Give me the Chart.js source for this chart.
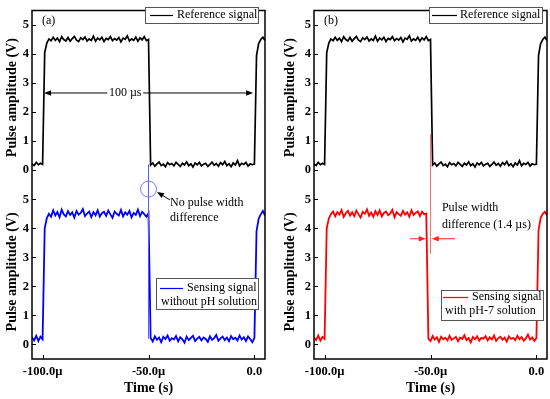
<!DOCTYPE html>
<html>
<head>
<meta charset="utf-8">
<script src="https://cdn.jsdelivr.net/npm/chart.js@4.4.1/dist/chart.umd.min.js"></script>
<style>
  html, body { margin: 0; padding: 0; background: #fff; }
  #wrap { position: relative; width: 550px; height: 399px; }
  canvas { position: absolute; top: 0; }
  #panelA { left: 0; }
  #panelB { left: 275px; }
</style>
</head>
<body>
<div id="wrap">
  <canvas id="panelA" width="275" height="399"></canvas>
  <canvas id="panelB" width="275" height="399"></canvas>
</div>
<script>
// sample times in µs, one sample per µs from -105 to 5
const timeUs = Array.from({ length: 111 }, (_, i) => i - 105);
const xTicks = [-100, -50, 0];
const yTicks = [0, 1, 2, 3, 4, 5];

// reference signal (V), same pulse in both panels
const refSignal = [
    0.22, 0.16, 0.27, 0.19, 0.24, 0.20, 4.05, 4.38, 4.52, 4.46,
    4.58, 4.47, 4.55, 4.43, 4.60, 4.50, 4.45, 4.57, 4.44, 4.53,
    4.61, 4.48, 4.43, 4.56, 4.50, 4.59, 4.45, 4.52, 4.47, 4.62,
    4.44, 4.55, 4.49, 4.58, 4.43, 4.54, 4.50, 4.60, 4.46, 4.53,
    4.48, 4.57, 4.42, 4.55, 4.51, 4.63, 4.45, 4.52, 4.47, 4.58,
    4.44, 4.56, 4.49, 4.60, 4.46, 4.50, 0.18, 0.25, 0.14, 0.22,
    0.28, 0.16, 0.21, 0.12, 0.26, 0.19, 0.23, 0.15, 0.27, 0.20,
    0.13, 0.24, 0.18, 0.29, 0.16, 0.22, 0.11, 0.25, 0.19, 0.27,
    0.15, 0.21, 0.24, 0.13, 0.20, 0.28, 0.17, 0.23, 0.14, 0.26,
    0.19, 0.30, 0.16, 0.22, 0.12, 0.25, 0.18, 0.33, 0.15, 0.24,
    0.20, 0.27, 0.14, 0.22, 0.19, 0.21, 3.95, 4.36, 4.50, 4.58,
    4.47
];

// sensing signal without pH solution (V)
const sensingNoPH = [
    0.25, 0.14, 0.30, 0.12, 0.27, 0.18, 4.00, 4.35, 4.50, 4.40,
    4.62, 4.44, 4.56, 4.38, 4.64, 4.48, 4.41, 4.59, 4.46, 4.55,
    4.37, 4.60, 4.47, 4.53, 4.66, 4.42, 4.51, 4.58, 4.39, 4.56,
    4.45, 4.62, 4.40, 4.52, 4.57, 4.43, 4.61, 4.48, 4.36, 4.58,
    4.50, 4.44, 4.63, 4.41, 4.55, 4.47, 4.60, 4.38, 4.53, 4.46,
    4.64, 4.42, 4.57, 4.49, 4.40, 4.52, 0.22, 0.10, 0.28, 0.16,
    0.24, 0.08, 0.26, 0.19, 0.31, 0.13, 0.22, 0.17, 0.29, 0.11,
    0.25, 0.18, 0.06, 0.27, 0.15, 0.23, 0.30, 0.12, 0.20, 0.26,
    0.14, 0.24, 0.19, 0.09, 0.28, 0.16, 0.22, 0.33, 0.13, 0.21,
    0.27, 0.15, 0.24, 0.11, 0.29, 0.18, 0.23, 0.14, 0.31, 0.17,
    0.25, 0.12, 0.28, 0.19, 0.08, 0.22, 3.90, 4.33, 4.48, 4.60,
    4.44
];

// sensing signal with pH-7 solution (V), falls ~1.4 µs earlier
const sensingPH7 = [
    0.24, 0.15, 0.31, 0.13, 0.26, 0.19, 4.00, 4.34, 4.49, 4.58,
    4.41, 4.56, 4.47, 4.63, 4.39, 4.52, 4.60, 4.44, 4.55, 4.42,
    4.61, 4.48, 4.37, 4.57, 4.50, 4.65, 4.43, 4.54, 4.40, 4.59,
    4.46, 4.62, 4.41, 4.53, 4.58, 4.45, 4.51, 4.64, 4.38, 4.56,
    4.49, 4.43, 4.60, 4.47, 4.55, 4.40, 4.62, 4.46, 4.53, 4.58,
    4.42, 4.57, 4.48, 4.51, 0.20, 0.12, 0.29, 0.17, 0.25, 0.09,
    0.27, 0.18, 0.23, 0.14, 0.30, 0.16, 0.21, 0.26, 0.11, 0.24,
    0.19, 0.32, 0.15, 0.22, 0.07, 0.26, 0.18, 0.28, 0.13, 0.23,
    0.20, 0.29, 0.14, 0.25, 0.17, 0.31, 0.12, 0.22, 0.27, 0.16,
    0.24, 0.10, 0.28, 0.19, 0.23, 0.15, 0.30, 0.18, 0.26, 0.13,
    0.21, 0.34, 0.17, 0.24, 0.12, 0.22, 3.92, 4.35, 4.50, 4.57,
    4.45
];

const serif = "'Liberation Serif', 'Times New Roman', serif";

const toPoints = vals => timeUs.map((t, i) => ({ x: t, y: vals[i] }));

function drawText(ctx, str, x, y, align) {
    ctx.fillStyle = '#000';
    ctx.font = '12px ' + serif;
    ctx.textAlign = align || 'left';
    ctx.textBaseline = 'middle';
    ctx.fillText(str, x, y);
}

function drawArrow(ctx, x1, y1, x2, y2, color) {
    const head = 7;
    const ang = Math.atan2(y2 - y1, x2 - x1);
    const c = Math.cos(ang), s = Math.sin(ang);
    ctx.strokeStyle = color;
    ctx.fillStyle = color;
    ctx.lineWidth = 1;
    ctx.beginPath();
    ctx.moveTo(x1, y1);
    ctx.lineTo(x2 - c * head * 0.8, y2 - s * head * 0.8);
    ctx.stroke();
    ctx.beginPath();
    ctx.moveTo(x2, y2);
    ctx.lineTo(x2 - head * c + head * 0.4 * s, y2 - head * s - head * 0.4 * c);
    ctx.lineTo(x2 - head * c - head * 0.4 * s, y2 - head * s + head * 0.4 * c);
    ctx.closePath();
    ctx.fill();
}

function drawLegend(ctx, l) {
    ctx.fillStyle = '#fff';
    ctx.fillRect(l.x, l.y, l.w, l.h);
    ctx.strokeStyle = '#555';
    ctx.lineWidth = 1;
    ctx.strokeRect(l.x + 0.5, l.y + 0.5, l.w, l.h);
    ctx.strokeStyle = l.color;
    ctx.lineWidth = 1.2;
    ctx.beginPath();
    ctx.moveTo(l.x0, l.ly + 0.5);
    ctx.lineTo(l.x1, l.ly + 0.5);
    ctx.stroke();
    l.text.forEach(([s, tx, ty]) => drawText(ctx, s, tx, ty));
}

// frame, inward ticks, annotations and legends
function decor(cfg) {
    return {
        id: 'decor',
        afterDraw(chart) {
            const { ctx, chartArea: a, scales } = chart;
            const px = t => scales.x.getPixelForValue(t);
            const pyT = v => scales.yTop.getPixelForValue(v);
            const pyB = v => scales.yBot.getPixelForValue(v);
            ctx.save();
            ctx.strokeStyle = '#000';
            ctx.lineWidth = 1;
            ctx.beginPath();
            [scales.yTop, scales.yBot].forEach(s => s.ticks.forEach(tk => {
                const y = Math.round(s.getPixelForValue(tk.value)) + 0.5;
                ctx.moveTo(a.left, y);
                ctx.lineTo(a.left + 4, y);
            }));
            scales.x.ticks.forEach(tk => {
                const x = Math.round(px(tk.value)) + 0.5;
                ctx.moveTo(x, a.bottom);
                ctx.lineTo(x, a.bottom - 4);
            });
            ctx.stroke();
            ctx.lineWidth = 1.5;
            ctx.strokeRect(a.left, a.top, a.right - a.left, a.bottom - a.top);
            cfg.annotate(ctx, px, pyT, pyB);
            cfg.legends.forEach(l => drawLegend(ctx, l));
            ctx.restore();
        }
    };
}

function yAxis(cfg, weight) {
    return {
        type: 'linear',
        position: 'left',
        stack: 'amp',
        stackWeight: 1,
        weight: weight,
        min: -0.5,
        max: 5.5,
        afterBuildTicks: s => { s.ticks = yTicks.map(v => ({ value: v })); },
        afterFit: s => { s.width = cfg.axisW; },
        grid: { display: false, drawTicks: false },
        border: { display: false },
        ticks: {
            color: '#000',
            padding: 3,
            font: { family: serif, size: 12.5, weight: 'bold' }
        },
        title: {
            display: true,
            text: 'Pulse amplitude (V)',
            color: '#000',
            font: { family: serif, size: 14, weight: 'bold' },
            padding: { top: cfg.titlePad, bottom: 0 }
        }
    };
}

function makePanel(id, cfg) {
    return new Chart(document.getElementById(id), {
        type: 'line',
        data: {
            datasets: [{
                label: 'Reference signal',
                data: toPoints(refSignal),
                yAxisID: 'yTop',
                borderColor: '#000',
                borderWidth: 1.7,
                pointRadius: 0,
                tension: 0
            }, {
                label: 'Sensing signal',
                data: toPoints(cfg.sensing),
                yAxisID: 'yBot',
                borderColor: cfg.color,
                borderWidth: 1.8,
                pointRadius: 0,
                tension: 0
            }]
        },
        options: {
            responsive: false,
            animation: false,
            devicePixelRatio: 1,
            layout: { padding: { left: 0, right: cfg.padRight, top: 4, bottom: 0 } },
            plugins: {
                legend: { display: false },
                tooltip: { enabled: false }
            },
            scales: {
                x: {
                    type: 'linear',
                    min: -105,
                    max: 5,
                    afterBuildTicks: s => { s.ticks = xTicks.map(v => ({ value: v })); },
                    afterFit: s => { s.height = 40; },
                    grid: { display: false, drawTicks: false },
                    border: { display: false },
                    ticks: {
                        color: '#000',
                        padding: 5,
                        maxRotation: 0,
                        font: { family: serif, size: 12.5, weight: 'bold' },
                        callback: v => v === 0 ? '0.0' : v.toFixed(1) + 'µ'
                    },
                    title: {
                        display: true,
                        text: 'Time (s)',
                        color: '#000',
                        font: { family: serif, size: 14, weight: 'bold' },
                        padding: { top: 0, bottom: 2 }
                    }
                },
                yBot: yAxis(cfg, 0),
                yTop: yAxis(cfg, 1)
            }
        },
        plugins: [decor(cfg)]
    });
}

// Panel (a)
makePanel('panelA', {
    sensing: sensingNoPH,
    color: '#0000ff',
    axisW: 32,
    titlePad: 4,
    padRight: 10,
    annotate(ctx, px, pyT, pyB) {
        drawText(ctx, '(a)', px(-100.3), pyT(5.13));
        const y = pyT(2.66);
        drawArrow(ctx, px(-61), y, px(-99.3), y, '#000');
        drawArrow(ctx, px(-61), y, px(-0.6), y, '#000');
        ctx.fillStyle = '#fff';
        ctx.fillRect(px(-61) - 18, y - 7, 36, 14);
        drawText(ctx, '100 µs', px(-61), y, 'center');
        ctx.strokeStyle = '#5a5aff';
        ctx.lineWidth = 1;
        ctx.beginPath();
        ctx.moveTo(px(-50), pyT(0.2));
        ctx.lineTo(px(-50), pyB(0.2));
        ctx.stroke();
        ctx.strokeStyle = '#7777ff';
        ctx.beginPath();
        ctx.arc(px(-50), pyB(5.35), 8, 0, Math.PI * 2);
        ctx.stroke();
        drawArrow(ctx, px(-39.9), pyB(4.98), px(-46.0), pyB(5.25), '#000');
        drawText(ctx, 'No pulse width', px(-39.8), pyB(4.87));
        drawText(ctx, 'difference', px(-39.8), pyB(4.37));
    },
    legends: [
        { x: 145, y: 7, w: 113, h: 16, color: '#000', x0: 150, x1: 173, ly: 15,
          text: [['Reference signal', 177, 15]] },
        { x: 156, y: 278, w: 102, h: 31, color: '#0000ff', x0: 160, x1: 183, ly: 288,
          text: [['Sensing signal', 187, 288], ['without pH solution', 161, 302]] }
    ]
});

// Panel (b)
makePanel('panelB', {
    sensing: sensingPH7,
    color: '#ff0000',
    axisW: 39,
    titlePad: 7,
    padRight: 3,
    annotate(ctx, px, pyT, pyB) {
        drawText(ctx, '(b)', px(-100.3), pyT(5.13));
        ctx.strokeStyle = '#ff7070';
        ctx.lineWidth = 1;
        ctx.beginPath();
        ctx.moveTo(px(-50), pyT(1.24));
        ctx.lineTo(px(-50), pyB(3.12));
        ctx.stroke();
        const y = pyB(3.64);
        drawArrow(ctx, px(-59.7), y, px(-52.2), y, '#ff2020');
        drawArrow(ctx, px(-38.4), y, px(-49.4), y, '#ff2020');
        drawText(ctx, 'Pulse width', px(-44.6), pyB(4.71));
        drawText(ctx, 'difference (1.4 µs)', px(-44.6), pyB(4.13));
    },
    legends: [
        { x: 154, y: 7, w: 113, h: 16, color: '#000', x0: 157, x1: 182, ly: 15,
          text: [['Reference signal', 185, 15]] },
        { x: 166, y: 290, w: 102, h: 30, color: '#ff0000', x0: 168, x1: 193, ly: 297,
          text: [['Sensing signal', 197, 297], ['with pH-7 solution', 170, 311]] }
    ]
});
</script>
</body>
</html>
